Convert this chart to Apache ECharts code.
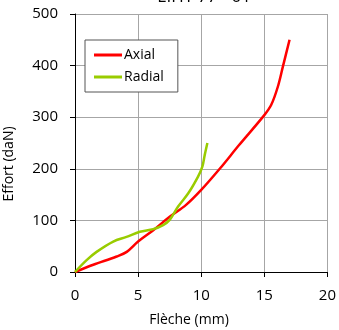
<!DOCTYPE html>
<html><head><meta charset="utf-8">
<script src="https://cdn.jsdelivr.net/npm/echarts@6/dist/echarts.min.js"></script>
<style>html,body{margin:0;padding:0;background:#fff}#c{width:339px;height:330px}</style>
</head><body><div id="c"></div>
<script>
const title = "EIHT 77 - 01";
const xName = "Flèche (mm)";
const yName = "Effort (daN)";
const axialX = [0, 1.45, 3.3, 4.1, 5.0, 6.2, 7.5, 8.8, 10.0, 11.5, 13.0, 15.0, 15.55, 16.07, 16.47, 17.0];
const axialY = [0, 14, 30, 39, 59, 81, 107, 130, 159, 201, 246, 304, 324, 359, 398, 450];
const radialX = [0, 0.92, 1.71, 3.03, 4.08, 5.14, 6.19, 6.98, 7.5, 8.17, 8.96, 9.75, 10.09, 10.28, 10.49];
const radialY = [0, 23, 39, 59, 68, 78, 83, 91, 101, 127, 152, 185, 204, 227, 250];
const xTicks = [0, 5, 10, 15, 20];
const yTicks = [0, 100, 200, 300, 400, 500];

const font = '"Open Sans", sans-serif';
const chart = echarts.init(document.getElementById('c'));
chart.setOption({
  animation: false,
  grid: {left: 75, right: 11, top: 14, bottom: 58},
  graphic: [
    {type: 'text', x: 204, y: -3, style: {text: title, font: '17px ' + font, fill: '#000', align: 'center', verticalAlign: 'middle'}},
    {type: 'text', x: 189, y: 320, style: {text: xName, font: '14px ' + font, fill: '#000', align: 'center', verticalAlign: 'middle'}},
    {type: 'text', x: 9, y: 164, rotation: Math.PI/2, style: {text: yName, font: '14px ' + font, fill: '#000', align: 'center', verticalAlign: 'middle'}}
  ],
  legend: {
    left: 85, top: 40, orient: 'vertical',
    padding: [8, 14, 8, 9], itemGap: 8,
    borderColor: '#555', borderWidth: 1, backgroundColor: '#fff',
    itemWidth: 28, itemHeight: 3,
    icon: 'rect',
    textStyle: {fontFamily: font, fontSize: 14, color: '#000', padding: [0,0,0,-3]},
    data: ['Axial', 'Radial']
  },
  xAxis: {
    type: 'value', min: 0, max: 20, interval: 5,
    axisLine: {show: true, lineStyle: {color: '#000', width: 1}},
    axisTick: {show: true, length: 5, lineStyle: {color: '#000'}},
    axisLabel: {fontFamily: font, fontSize: 15, color: '#000', margin: 16,
      formatter: v => xTicks.includes(v) ? String(v) : ''},
    splitLine: {show: true, lineStyle: {color: '#a6a6a6', width: 1}}
  },
  yAxis: {
    type: 'value', min: 0, max: 500, interval: 100,
    axisLine: {show: true, lineStyle: {color: '#000', width: 1}},
    axisTick: {show: true, length: 5, lineStyle: {color: '#000'}},
    axisLabel: {fontFamily: font, fontSize: 15, color: '#000', margin: 17,
      formatter: v => yTicks.includes(v) ? String(v) : ''},
    splitLine: {show: true, lineStyle: {color: '#a6a6a6', width: 1}}
  },
  series: [
    {name: 'Axial', type: 'line', smooth: 0.35, showSymbol: false, symbol: 'none',
     lineStyle: {color: '#ff0000', width: 2.5}, itemStyle: {color: '#ff0000'},
     data: axialX.map((x, i) => [x, axialY[i]]), z: 3},
    {name: 'Radial', type: 'line', smooth: 0.35, showSymbol: false, symbol: 'none',
     lineStyle: {color: '#99cc00', width: 2.5}, itemStyle: {color: '#99cc00'},
     data: radialX.map((x, i) => [x, radialY[i]]), z: 4}
  ]
});
</script></body></html>
